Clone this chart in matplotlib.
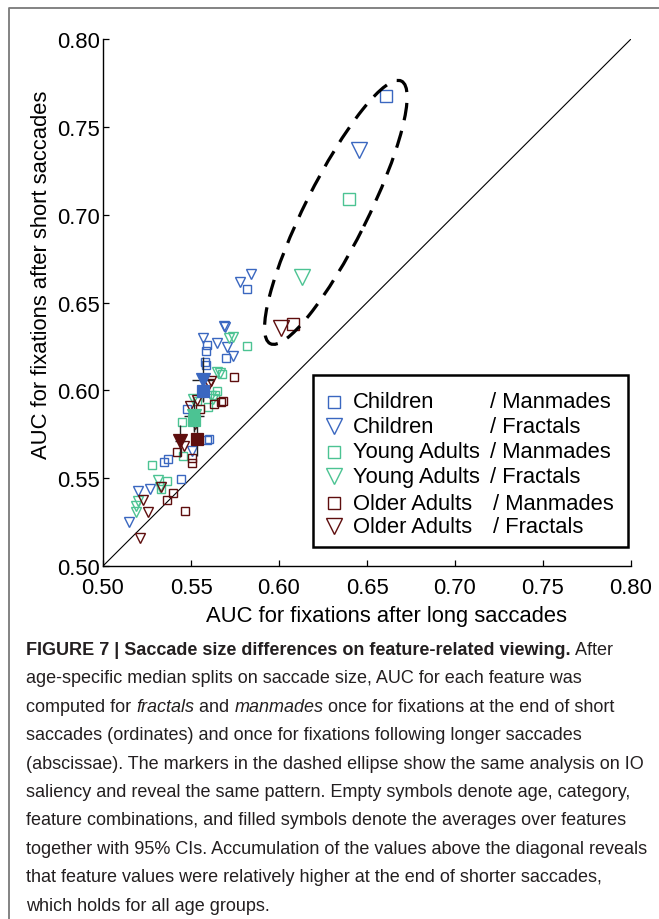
import matplotlib
matplotlib.use("Agg")
import matplotlib.pyplot as plt
from matplotlib.patches import Ellipse, Rectangle
from matplotlib.lines import Line2D
from matplotlib.font_manager import FontProperties, fontManager

# ---------------- data ----------------
groups = ["Children", "Young Adults", "Older Adults"]
categories = ["Manmades", "Fractals"]
colors = ["#3a67c0", "#4cc393", "#5e0e0e"]

ticks = [0.50, 0.55, 0.60, 0.65, 0.70, 0.75, 0.80]
tick_labels = ["0.50", "0.55", "0.60", "0.65", "0.70", "0.75", "0.80"]

# empty symbols: age x category x feature combinations
children_man_x = [0.5816, 0.5589, 0.5588, 0.5701, 0.5579, 0.5588, 0.5475, 0.5592, 0.5600, 0.5348, 0.5367, 0.5443]
children_man_y = [0.6576, 0.6258, 0.6222, 0.6185, 0.6164, 0.6147, 0.5893, 0.5719, 0.5723, 0.5590, 0.5607, 0.5493]
children_fra_x = [0.5778, 0.5841, 0.5687, 0.5693, 0.5568, 0.5650, 0.5704, 0.5741, 0.5504, 0.5267, 0.5197, 0.5148]
children_fra_y = [0.6618, 0.6661, 0.6366, 0.6360, 0.6298, 0.6267, 0.6244, 0.6197, 0.5654, 0.5438, 0.5427, 0.5250]
young_man_x = [0.5820, 0.5678, 0.5648, 0.5639, 0.5598, 0.5532, 0.5447, 0.5456, 0.5277, 0.5362, 0.5328]
young_man_y = [0.6254, 0.6094, 0.5996, 0.5976, 0.5903, 0.5941, 0.5818, 0.5626, 0.5573, 0.5482, 0.5438]
young_fra_x = [0.5717, 0.5737, 0.5650, 0.5665, 0.5615, 0.5624, 0.5513, 0.5314, 0.5324, 0.5200, 0.5185, 0.5190]
young_fra_y = [0.6299, 0.6306, 0.6106, 0.6101, 0.5970, 0.5953, 0.5950, 0.5487, 0.5451, 0.5372, 0.5339, 0.5306]
older_man_x = [0.5744, 0.5680, 0.5669, 0.5630, 0.5551, 0.5504, 0.5508, 0.5423, 0.5396, 0.5362, 0.5464]
older_man_y = [0.6077, 0.5941, 0.5931, 0.5922, 0.5891, 0.5617, 0.5584, 0.5647, 0.5415, 0.5376, 0.5315]
older_fra_x = [0.5604, 0.5613, 0.5536, 0.5494, 0.5524, 0.5460, 0.5327, 0.5227, 0.5254, 0.5210]
older_fra_y = [0.6038, 0.6053, 0.5946, 0.5912, 0.5806, 0.5685, 0.5452, 0.5377, 0.5306, 0.5158]

# IO saliency (inside dashed ellipse), order: C/M, C/F, YA/M, YA/F, OA/M, OA/F
io_x = [0.6606, 0.6454, 0.6396, 0.6129, 0.6081, 0.6009]
io_y = [0.7673, 0.7369, 0.7092, 0.6643, 0.6375, 0.6352]

# averages over features with 95% CIs, same order
mean_x = [0.5566, 0.5566, 0.5517, 0.5517, 0.5532, 0.5437]
mean_y = [0.5997, 0.6061, 0.5831, 0.5854, 0.5725, 0.5713]
mean_xerr = [0.003, 0.006, 0.003, 0.0057, 0.003, 0.003]
mean_yerr = [0.006, 0.013, 0.006, 0.009, 0.010, 0.009]

# annotation ellipse (data units)
ell_center = (0.6323, 0.7013)
ell_width = 0.167
ell_height = 0.0355
ell_angle = 63.5

caption_lines = [
    [("FIGURE 7 | Saccade size differences on feature-related viewing.", "bold", "normal"), (" After", "normal", "normal")],
    [("age-specific median splits on saccade size, AUC for each feature was", "normal", "normal")],
    [("computed for ", "normal", "normal"), ("fractals", "normal", "italic"), (" and ", "normal", "normal"),
     ("manmades", "normal", "italic"), (" once for fixations at the end of short", "normal", "normal")],
    [("saccades (ordinates) and once for fixations following longer saccades", "normal", "normal")],
    [("(abscissae). The markers in the dashed ellipse show the same analysis on IO", "normal", "normal")],
    [("saliency and reveal the same pattern. Empty symbols denote age, category,", "normal", "normal")],
    [("feature combinations, and filled symbols denote the averages over features", "normal", "normal")],
    [("together with 95% CIs. Accumulation of the values above the diagonal reveals", "normal", "normal")],
    [("that feature values were relatively higher at the end of shorter saccades,", "normal", "normal")],
    [("which holds for all age groups.", "normal", "normal")],
]

# ---------------- figure ----------------
W, H, DPI = 659, 920, 100
plt.rcParams["font.family"] = ["Liberation Sans", "DejaVu Sans"]
fig = plt.figure(figsize=(W / DPI, H / DPI), dpi=DPI)
fig.patch.set_facecolor("white")

ax = fig.add_axes([103 / W, 1 - 567 / H, 528 / W, 527 / H])
ax.set_xlim(0.5, 0.8)
ax.set_ylim(0.5, 0.8)
for s in ["top", "right"]:
    ax.spines[s].set_visible(False)
for s in ["left", "bottom"]:
    ax.spines[s].set_linewidth(1.0)
ax.set_xticks(ticks)
ax.set_xticklabels(tick_labels)
ax.set_yticks(ticks)
ax.set_yticklabels(tick_labels)
ax.tick_params(axis="both", direction="in", length=4.5, width=0.9, labelsize=15.8)
ax.tick_params(axis="x", pad=8)
ax.tick_params(axis="y", pad=2.5)

# diagonal
ax.plot([ticks[0], ticks[-1]], [ticks[0], ticks[-1]], color="black", lw=0.8, zorder=1)

series = [
    (children_man_x, children_man_y, "s"),
    (children_fra_x, children_fra_y, "v"),
    (young_man_x, young_man_y, "s"),
    (young_fra_x, young_fra_y, "v"),
    (older_man_x, older_man_y, "s"),
    (older_fra_x, older_fra_y, "v"),
]
for i, (xs, ys, mk) in enumerate(series):
    c = colors[i // 2]
    ms = 5.5 if mk == "s" else 7.5
    ax.plot(xs, ys, linestyle="none", marker=mk, ms=ms, mfc="none", mec=c, mew=1.0, zorder=2)
    ms_io = 8 if mk == "s" else 11
    ax.plot([io_x[i]], [io_y[i]], linestyle="none", marker=mk, ms=ms_io, mfc="none", mec=c, mew=1.0, zorder=2)

for i, (xs, ys, mk) in enumerate(series):
    c = colors[i // 2]
    ms = 8.5 if mk == "s" else 10
    ax.errorbar([mean_x[i]], [mean_y[i]], xerr=[mean_xerr[i]], yerr=[mean_yerr[i]],
                fmt="none", ecolor="#222222", elinewidth=1.0, capsize=0, zorder=3)
    ax.plot([mean_x[i]], [mean_y[i]], linestyle="none", marker=mk, ms=ms, mfc=c, mec=c, mew=0.9, zorder=4)

ell = Ellipse(ell_center, ell_width, ell_height, angle=ell_angle, fill=False,
              edgecolor="black", lw=2.3, linestyle=(0, (5.5, 3.4)), zorder=2)
ax.add_patch(ell)

ax.set_xlabel("AUC for fixations after long saccades", fontsize=15.8)
ax.set_ylabel("AUC for fixations after short saccades", fontsize=15.8)
ax.xaxis.set_label_coords((386 - 103) / 528, (567 - 606) / 527)
ax.yaxis.set_label_coords((52 - 103) / 528, (567 - 275) / 527)

# legend (manual)
def axf(px, py):
    return ((px - 103) / 528, (567 - py) / 527)

lx0, ly0 = axf(313, 548)
lx1, ly1 = axf(628, 376)
ax.add_patch(Rectangle((lx0, ly0), lx1 - lx0, ly1 - ly0, transform=ax.transAxes,
                       fill=True, facecolor="white", edgecolor="black", lw=1.8, zorder=5, clip_on=False))
row_py = [402.7, 427.3, 452.7, 477.3, 504, 527.3]
slash_px = [490, 490, 490, 490, 493, 493]
for i in range(6):
    c = colors[i // 2]
    mk = "s" if i % 2 == 0 else "v"
    mx, my = axf(334, row_py[i])
    ax.plot([mx], [my], transform=ax.transAxes, linestyle="none", marker=mk,
            ms=(8.5 if mk == "s" else 12), mfc="none", mec=c, mew=1.0, zorder=6, clip_on=False)
    tx, ty = axf(353, row_py[i])
    ax.text(tx, ty, groups[i // 2], transform=ax.transAxes, fontsize=15.8, va="center", ha="left", zorder=6)
    sx, _ = axf(slash_px[i], row_py[i])
    ax.text(sx, ty, "/ " + categories[i % 2], transform=ax.transAxes, fontsize=15.8, va="center", ha="left", zorder=6)

# figure frame lines (left and top)
fig.add_artist(Line2D([8.5 / W, 8.5 / W, 1.0], [0.0, 1 - 9 / H, 1 - 9 / H], transform=fig.transFigure,
                      color="#7a7a7a", lw=1.3))

# caption
names = {f.name for f in fontManager.ttflist}
cap_family = "Liberation Sans Narrow" if "Liberation Sans Narrow" in names else "Liberation Sans"
cap_size = 14.3 if cap_family == "Liberation Sans Narrow" else 12.95
renderer = fig.canvas.get_renderer()

def seg_width(text, weight, style):
    fp = FontProperties(family=cap_family, size=cap_size, weight=weight, style=style)
    w1, _, _ = renderer.get_text_width_height_descent(text + "|", fp, ismath=False)
    w2, _, _ = renderer.get_text_width_height_descent("|", fp, ismath=False)
    return w1 - w2

base0 = 655
for li, segs in enumerate(caption_lines):
    x = 26.0
    yb = base0 + li * 28.4
    for text, weight, style in segs:
        fig.text(x / W, 1 - yb / H, text, fontsize=cap_size, family=cap_family,
                 fontweight=weight, fontstyle=style, ha="left", va="baseline", color="#231f20")
        x += seg_width(text, weight, style)

fig.savefig("out.png", dpi=DPI)
